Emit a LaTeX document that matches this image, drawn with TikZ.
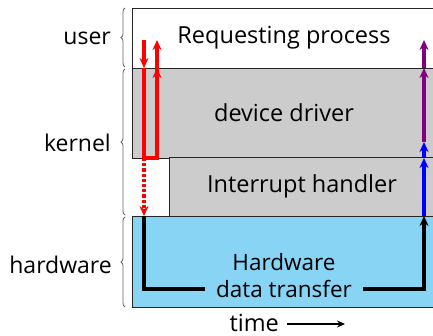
\documentclass[tikz,border=0pt]{standalone}
\usepackage{fontspec}
\setmainfont{Open Sans}
\usetikzlibrary{arrows.meta,decorations.pathreplacing}
\definecolor{hwblue}{RGB}{135,212,245}
\definecolor{kgray}{RGB}{204,204,204}
\definecolor{ppl}{RGB}{128,0,128}
\tikzset{
  layer/.style={draw=black!85, line width=0.9pt, anchor=north west, inner sep=0pt, outer sep=0pt},
  lbl/.style={font=\fontsize{23.5}{27}\selectfont, inner sep=0pt},
  side/.style={font=\fontsize{23}{27}\selectfont, inner sep=0pt, anchor=east},
  br/.style={draw=black!60, line width=0.8pt, decorate, decoration={brace, amplitude=4pt, mirror}},
  flow/.style={line width=3.2pt, -{Stealth[length=10pt,width=9pt]}},
  flown/.style={line width=3.2pt},
}
\begin{document}
\begin{tikzpicture}[x=1pt,y=-1pt]
\useasboundingbox (0,0) rectangle (433,336);
% layers
\node[layer, fill=white, minimum width=310pt, minimum height=60pt] (req) at (132,8) {};
\node[layer, fill=kgray, minimum width=310pt, minimum height=90pt] (drv) at (132,68) {};
\node[layer, fill=kgray, minimum width=270pt, minimum height=59pt] (irq) at (169,157) {};
\node[layer, fill=hwblue, minimum width=310pt, minimum height=91pt] (hw) at (132,216) {};
% texts
\node[lbl] (treq) at (284,38) {Requesting process};
\node[lbl] (tdrv) at (284,113) {device driver};
\node[lbl] (tirq) at (302,186) {Interrupt handler};
\node[font=\fontsize{22.5}{27}\selectfont, inner sep=0pt, align=center] (thw) at (284,276) {Hardware\\data transfer};
% side labels and braces
\node[side] (user) at (111,38) {user};
\node[side] (kern) at (111,143) {kernel};
\node[side] (hard) at (112,265) {hardware};
\coordinate (b1) at (125,8); \coordinate (b2) at (125,67);
\coordinate (b3) at (125,69); \coordinate (b4) at (125,215);
\coordinate (b5) at (125,217); \coordinate (b6) at (125,307);
\draw[br] (b1) -- (b2);
\draw[br] (b3) -- (b4);
\draw[br] (b5) -- (b6);
% red
\coordinate (r1) at (144,40); \coordinate (r2) at (144,68);
\coordinate (r3) at (144,158); \coordinate (r4) at (157,158);
\coordinate (r5) at (157,68); \coordinate (r6) at (157,40);
\coordinate (r7) at (144,216);
\draw[flow, red] (r1) -- (r2);
\draw[flown, red, line join=miter] (r2) -- (r3) -- (r4) -- (r5);
\draw[flow, red] (r4) -- (r5);
\draw[flow, red] (r5) -- (r6);
\draw[flow, red, dotted] (r3) -- (r7);
% black
\coordinate (k1) at (144,289); \coordinate (k2) at (205,289);
\coordinate (k3) at (363,289); \coordinate (k4) at (424,289);
\coordinate (k5) at (424,216);
\draw[flown, line join=miter] (r7) -- (k1) -- (k2);
\draw[flow, line join=miter] (k3) -- (k4) -- (k5);
% blue & purple
\coordinate (u1) at (424,158); \coordinate (u2) at (424,142);
\coordinate (u3) at (424,68); \coordinate (u4) at (424,40);
\draw[flow, blue] (k5) -- (u1);
\draw[flow, blue] (u1) -- (u2);
\draw[flow, ppl] (u2) -- (u3);
\draw[flow, ppl] (u3) -- (u4);
% time
\node[lbl, anchor=east] (time) at (279,323) {time};
\draw[line width=1.6pt, -{Stealth[length=8pt,width=7pt]}] ([xshift=8pt,yshift=-1pt]time.east) -- ([xshift=66pt,yshift=-1pt]time.east);
\end{tikzpicture}
\end{document}
